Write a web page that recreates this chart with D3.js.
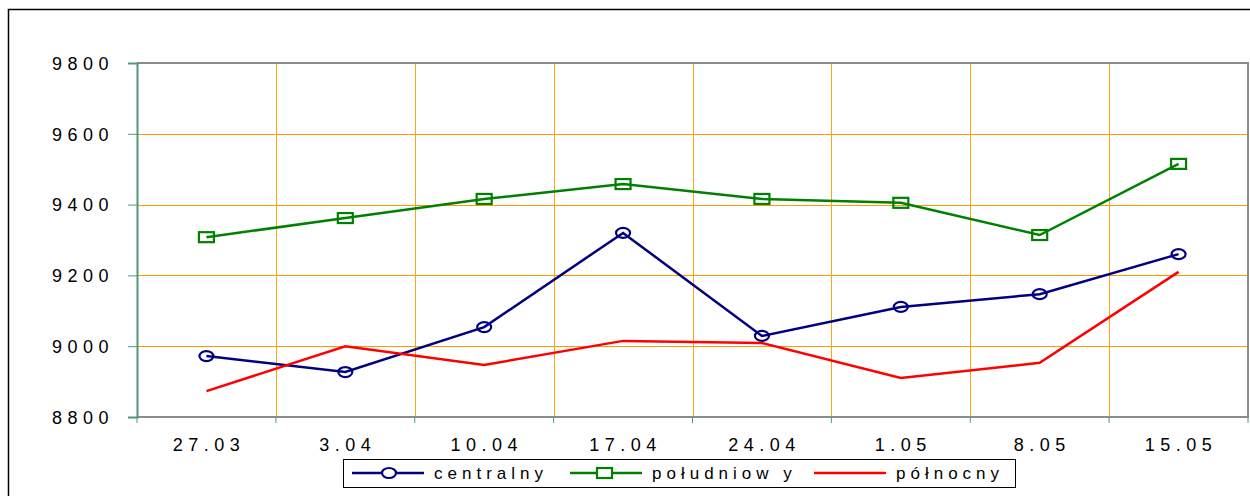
<!DOCTYPE html>
<html>
<head>
<meta charset="utf-8">
<script src="https://cdn.jsdelivr.net/npm/d3@7"></script>
<style>
  body { margin: 0; background: #fff; }
  text { font-family: "Liberation Sans", Arial, sans-serif; fill: #000; }
</style>
</head>
<body>
<div id="chart"></div>
<script>
// Data
var dates = ["27.03", "3.04", "10.04", "17.04", "24.04", "1.05", "8.05", "15.05"];
var centralny = [8972, 8927, 9054, 9320, 9029, 9111, 9147, 9260];
var poludniowy = [9308, 9362, 9416, 9458, 9416, 9405, 9314, 9515];
var polnocny = [8873, 9000, 8947, 9015, 9009, 8910, 8953, 9210];
var yTicks = [8800, 9000, 9200, 9400, 9600, 9800];

var series = [
  {name: "centralny", values: centralny, color: "#000080", marker: "circle"},
  {name: "południow y", values: poludniowy, color: "#008000", marker: "square"},
  {name: "północny", values: polnocny, color: "#ff0000", marker: "none"}
];

// Placement
var W = 1250, H = 496,
  pLeft = 137, pRight = 1248, pTop = 63, pBottom = 417;

var svg = d3.select("#chart").append("svg")
  .attr("width", W)
  .attr("height", H);

// outer frame
svg.append("path")
  .attr("d", "M8.5,500 V9.5 H1260")
  .attr("fill", "none")
  .attr("stroke", "#000")
  .attr("stroke-width", 1.5);

var x = d3.scaleBand().domain(dates).range([pLeft, pRight]).padding(0);
var y = d3.scaleLinear().domain([8800, 9800]).range([pBottom, pTop]);

// gridlines
var grid = svg.append("g").attr("shape-rendering", "crispEdges");
grid.selectAll("line.h")
  .data(yTicks.slice(1, -1))
  .enter().append("line")
  .attr("x1", pLeft).attr("x2", pRight)
  .attr("y1", function(d) { return Math.round(y(d)) + 0.5; })
  .attr("y2", function(d) { return Math.round(y(d)) + 0.5; })
  .attr("stroke", "#ff9900");
grid.selectAll("line.v")
  .data(dates.slice(1))
  .enter().append("line")
  .attr("x1", function(d) { return Math.round(x(d)) + 0.5; })
  .attr("x2", function(d) { return Math.round(x(d)) + 0.5; })
  .attr("y1", pTop).attr("y2", pBottom)
  .attr("stroke", "#ffa31a");

// plot border (top, right, bottom)
svg.append("path")
  .attr("d", "M" + pLeft + "," + pTop + " H" + pRight + " V" + pBottom + " H" + pLeft)
  .attr("fill", "none")
  .attr("stroke", "#8c8c8c")
  .attr("stroke-width", 2);

// y axis
var yAxis = d3.axisLeft(y).tickValues(yTicks).tickSize(9).tickPadding(14)
  .tickFormat(d3.format("d"));
var gy = svg.append("g")
  .attr("transform", "translate(" + pLeft + ",0)")
  .call(yAxis);
gy.select(".domain").attr("stroke", "#4f9878").attr("stroke-width", 2);
gy.selectAll(".tick line").attr("stroke", "#4f9878");
gy.selectAll(".tick text")
  .style("font-size", "18px")
  .style("letter-spacing", "5.5px")
  .attr("dy", "0.35em");

// x axis ticks at category boundaries
svg.append("g").selectAll("line")
  .data(dates.concat(["end"]))
  .enter().append("line")
  .attr("x1", function(d, i) { return i < dates.length ? x(d) : pRight; })
  .attr("x2", function(d, i) { return i < dates.length ? x(d) : pRight; })
  .attr("y1", pBottom).attr("y2", pBottom + 6)
  .attr("stroke", "#4f9878");

svg.append("g").selectAll("text")
  .data(dates)
  .enter().append("text")
  .attr("x", function(d) { return x(d) + x.bandwidth() / 2 + 2.5; })
  .attr("y", 451)
  .attr("text-anchor", "middle")
  .style("font-size", "18px")
  .style("letter-spacing", "5.5px")
  .text(function(d) { return d; });

// lines
var line = d3.line()
  .x(function(d, i) { return x(dates[i]) + x.bandwidth() / 2; })
  .y(function(d) { return y(d); });

series.forEach(function(s) {
  svg.append("path")
    .datum(s.values)
    .attr("d", line)
    .attr("fill", "none")
    .attr("stroke", s.color)
    .attr("stroke-width", 2.5);

  var pts = svg.append("g").selectAll("m").data(s.values).enter();
  if (s.marker == "circle") {
    pts.append("ellipse")
      .attr("cx", function(d, i) { return x(dates[i]) + x.bandwidth() / 2; })
      .attr("cy", function(d) { return y(d); })
      .attr("rx", 7).attr("ry", 5)
      .attr("fill", "none").attr("stroke", s.color).attr("stroke-width", 2.2);
  } else if (s.marker == "square") {
    pts.append("rect")
      .attr("x", function(d, i) { return x(dates[i]) + x.bandwidth() / 2 - 7.5; })
      .attr("y", function(d) { return y(d) - 5; })
      .attr("width", 15).attr("height", 10)
      .attr("fill", "none").attr("stroke", s.color).attr("stroke-width", 2.2);
  }
});

// legend
var legend = svg.append("g");
legend.append("rect")
  .attr("x", 343.5).attr("y", 459.5)
  .attr("width", 672).attr("height", 28)
  .attr("fill", "#fff").attr("stroke", "#000");

var legX = [352, 570, 814];
series.forEach(function(s, i) {
  var g = legend.append("g").attr("transform", "translate(" + legX[i] + ",473)");
  g.append("line").attr("x1", 0).attr("x2", 72).attr("y1", 0).attr("y2", 0)
    .attr("stroke", s.color).attr("stroke-width", 2.5);
  if (s.marker == "circle") {
    g.append("ellipse").attr("cx", 37).attr("cy", 0).attr("rx", 7).attr("ry", 5)
      .attr("fill", "#fff").attr("stroke", s.color).attr("stroke-width", 2.2);
  } else if (s.marker == "square") {
    g.append("rect").attr("x", 27).attr("y", -5).attr("width", 15).attr("height", 10)
      .attr("fill", "#fff").attr("stroke", s.color).attr("stroke-width", 2.2);
  }
  g.append("text")
    .attr("x", 82).attr("y", 0).attr("dy", "0.35em")
    .style("font-size", "17px")
    .style("letter-spacing", "5px")
    .text(s.name);
});
</script>
</body>
</html>
